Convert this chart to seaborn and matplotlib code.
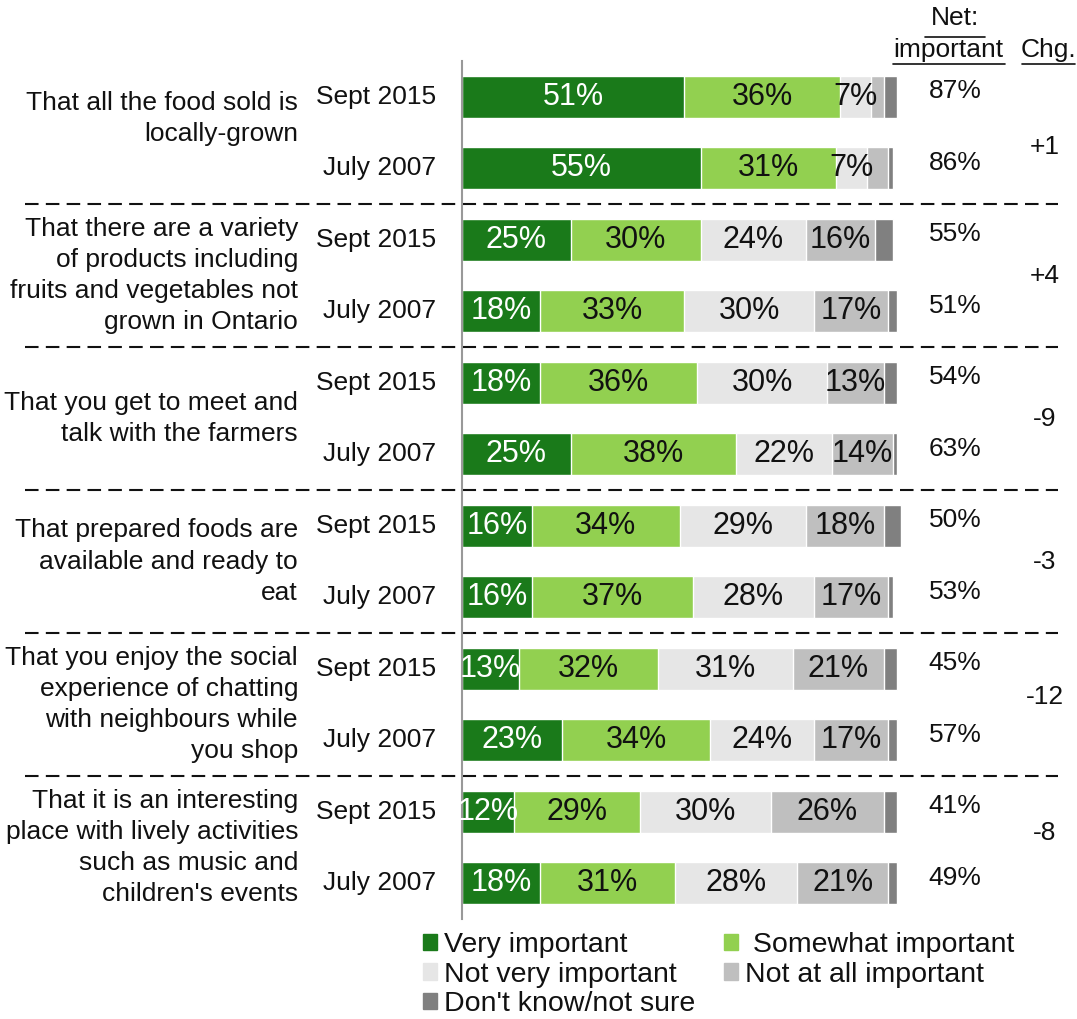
import matplotlib
matplotlib.use("Agg")
import matplotlib.pyplot as plt
import matplotlib.patches as mpatches
from matplotlib.lines import Line2D
import numpy as np
import pandas as pd
import seaborn as sns

items = [
    "That all the food sold is\nlocally-grown",
    "That there are a variety\nof products including\nfruits and vegetables not\ngrown in Ontario",
    "That you get to meet and\ntalk with the farmers",
    "That prepared foods are\navailable and ready to\neat",
    "That you enjoy the social\nexperience of chatting\nwith neighbours while\nyou shop",
    "That it is an interesting\nplace with lively activities\nsuch as music and\nchildren's events",
]
periods = ["Sept 2015", "July 2007"]

very = [51, 55, 25, 18, 18, 25, 16, 16, 13, 23, 12, 18]
somewhat = [36, 31, 30, 33, 36, 38, 34, 37, 32, 34, 29, 31]
not_very = [7, 7, 24, 30, 30, 22, 29, 28, 31, 24, 30, 28]
not_at_all = [3, 5, 16, 17, 13, 14, 18, 17, 21, 17, 26, 21]
dont_know = [3, 1, 4, 2, 3, 1, 4, 1, 3, 2, 3, 2]
net = [87, 86, 55, 51, 54, 63, 50, 53, 45, 57, 41, 49]
chg = ["+1", "+4", "-9", "-3", "-12", "-8"]

series = ["Very important", "Somewhat important", "Not very important",
          "Not at all important", "Don't know/not sure"]
colors = ["#1a7a1a", "#92d050", "#e6e6e6", "#bfbfbf", "#808080"]

sns.set_theme(style="white")
plt.rcParams["font.family"] = ["Liberation Sans", "DejaVu Sans"]
plt.rcParams["text.color"] = "#111111"
FS = 19
BAR_FS = 22

df = pd.DataFrame({
    "row": [str(i) for i in range(12)],
    series[0]: very, series[1]: somewhat, series[2]: not_very,
    series[3]: not_at_all, series[4]: dont_know,
})
cum = df[series].cumsum(axis=1)
cum["row"] = df["row"]

fig = plt.figure(figsize=(10.77, 10.19), dpi=100)
px = 4.35  # pixels per percent
left = 462 / 1077
ax = fig.add_axes([left, 1 - 919 / 1019, 1 - left, 858 / 1019])

# stacked bars: draw cumulative totals from the back to the front
for s, c in zip(reversed(series), reversed(colors)):
    sns.barplot(data=cum, x=s, y="row", order=df["row"], orient="h",
                color=c, width=0.59, saturation=1, ax=ax)

ax.set_xlim(0, (1077 - 462) / px)
ax.set_ylim(11.5, -0.5)
ax.set_xlabel("")
ax.set_ylabel("")
ax.set_xticks([])
ax.set_yticks([])
for sp in ["top", "right", "bottom"]:
    ax.spines[sp].set_visible(False)
ax.spines["left"].set_color("#999999")
ax.spines["left"].set_linewidth(1.5)

# segment labels
for i in range(12):
    start = 0
    for j, s in enumerate(series):
        v = df[s].iloc[i]
        if j < 4 and v >= 7:
            ax.text(start + v / 2, i, f"{v}%", ha="center", va="center",
                    fontsize=BAR_FS, color="white" if j == 0 else "#111111")
        start += v
    ax.text(-6, i, periods[i % 2], ha="right", va="center", fontsize=FS,
            color="#111111", clip_on=False)
    ax.text((955 - 462) / px, i - 0.08, f"{net[i]}%", ha="center", va="center",
            fontsize=FS, color="#111111", clip_on=False)

chg_shift = [0.2, 0.0, 0.0, 0.0, -0.1, -0.2]
for g in range(6):
    yc = 2 * g + 0.5
    ax.text(-37.7, yc - (0.2 if g == 0 else 0.0), items[g], ha="right",
            va="center", fontsize=FS, color="#111111", linespacing=1.38,
            clip_on=False)
    ax.text((1045 - 462) / px, yc + chg_shift[g], chg[g], ha="center",
            va="center", fontsize=FS, color="#111111", clip_on=False)
    if g > 0:
        ax.plot([(25 - 462) / px, (1058 - 462) / px], [yc - 1, yc - 1],
                color="#111111", lw=1.5, ls=(0, (6.5, 3.5)), clip_on=False)

# header with underlines
fig.text(955 / 1077, 1 - 18 / 1019, "Net:", ha="center", va="center",
         fontsize=FS, color="#111111")
fig.text(948 / 1077, 1 - 50 / 1019, "important", ha="center", va="center",
         fontsize=FS, color="#111111")
fig.text(1048 / 1077, 1 - 50 / 1019, "Chg.", ha="center", va="center",
         fontsize=FS, color="#111111")
for x0, x1, y in [(925, 985, 37), (893, 1005, 64), (1022, 1075, 64)]:
    fig.add_artist(Line2D([x0 / 1077, x1 / 1077], [1 - y / 1019, 1 - y / 1019],
                          color="#111111", lw=1.2))

# legend (column order gives row-wise reading)
order = [0, 2, 4, 1, 3]
labels = series.copy()
labels[1] = " " + labels[1]
handles = [mpatches.Patch(color=colors[k], label=labels[k]) for k in order]
leg = fig.legend(handles=handles, loc="upper left",
                 bbox_to_anchor=(423 / 1077, 1 - 932 / 1019), ncol=2,
                 frameon=False, fontsize=20.5, handlelength=0.5,
                 handleheight=0.5, handletextpad=0.25, labelspacing=0.13,
                 columnspacing=1.0, borderpad=0, borderaxespad=0)
for t in leg.get_texts():
    t.set_color("#111111")

fig.savefig("out.png", dpi=100)
